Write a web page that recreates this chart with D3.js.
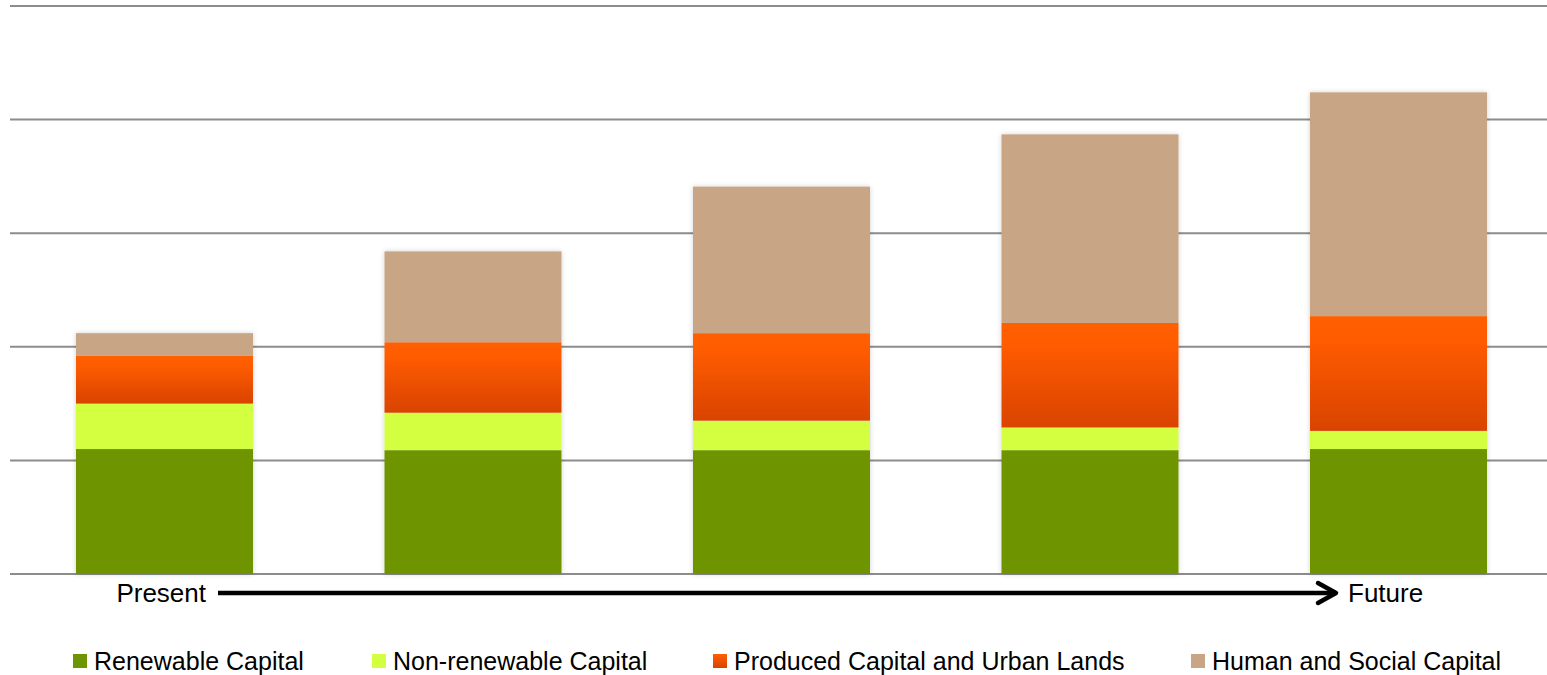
<!DOCTYPE html>
<html>
<head>
<meta charset="utf-8">
<script src="https://cdn.jsdelivr.net/npm/d3@7"></script>
<style>
  body { margin: 0; background: #fff; }
  text { font-family: "Liberation Sans", Arial, sans-serif; }
</style>
</head>
<body>
<div id="chart"></div>
<script>
// stacked capital bars, present -> future
const width = 1547;
const height = 675;

const periods = ["P1", "P2", "P3", "P4", "P5"];
const seriesNames = ["Renewable Capital", "Non-renewable Capital", "Produced Capital and Urban Lands", "Human and Social Capital"];
const renewable = [1.10, 1.09, 1.09, 1.09, 1.10];
const nonRenewable = [0.40, 0.33, 0.26, 0.20, 0.16];
const produced = [0.42, 0.62, 0.77, 0.92, 1.01];
const human = [0.20, 0.80, 1.29, 1.66, 1.97];
const yTicks = [0, 1, 2, 3, 4, 5];

const colors = ["#6e9400", "#d3ff40", "url(#orangeGrad)", "#c8a585"];
const legendColors = ["#6e9400", "#d3ff40", "url(#orangeGradLeg)", "#c8a585"];

const rows = periods.map((p, i) => ({
  period: p,
  s0: renewable[i], s1: nonRenewable[i], s2: produced[i], s3: human[i]
}));
const stack = d3.stack().keys(["s0", "s1", "s2", "s3"])(rows);

const svg = d3.select("#chart").append("svg")
  .attr("width", width)
  .attr("height", height);

const defs = svg.append("defs");
const grad = defs.append("linearGradient").attr("id", "orangeGrad")
  .attr("x1", 0).attr("y1", 0).attr("x2", 0).attr("y2", 1);
grad.append("stop").attr("offset", "0%").attr("stop-color", "#ff5f00");
grad.append("stop").attr("offset", "20%").attr("stop-color", "#ff5c00");
grad.append("stop").attr("offset", "100%").attr("stop-color", "#d94300");
const gradL = defs.append("linearGradient").attr("id", "orangeGradLeg")
  .attr("x1", 0).attr("y1", 0).attr("x2", 0).attr("y2", 1);
gradL.append("stop").attr("offset", "0%").attr("stop-color", "#ff5f00");
gradL.append("stop").attr("offset", "100%").attr("stop-color", "#d94300");

const shadow = defs.append("filter").attr("id", "shadow")
  .attr("x", "-10%").attr("y", "-10%").attr("width", "120%").attr("height", "120%");
shadow.append("feDropShadow").attr("dx", 0).attr("dy", 0)
  .attr("stdDeviation", 2.5).attr("flood-color", "#000").attr("flood-opacity", 0.18);

const x = d3.scaleBand().domain(periods).range([14.3, 1548.7]).paddingInner(0.4263).paddingOuter(0.2);
const y = d3.scaleLinear().domain([0, 5]).range([574, 6]);

// gridlines
svg.append("g")
  .selectAll("line")
  .data(yTicks)
  .join("line")
  .attr("x1", 10).attr("x2", width)
  .attr("y1", d => y(d)).attr("y2", d => y(d))
  .attr("stroke", "#8c8c8c")
  .attr("stroke-width", 2);

const bars = svg.append("g").attr("filter", "url(#shadow)");
bars.selectAll("g")
  .data(stack)
  .join("g")
  .attr("fill", (d, i) => colors[i])
  .selectAll("rect")
  .data(d => d)
  .join("rect")
  .attr("x", d => x(d.data.period))
  .attr("width", x.bandwidth())
  .attr("y", d => y(d[1]))
  .attr("height", d => y(d[0]) - y(d[1]));

// arrow axis
const arrowY = 593;
svg.append("text")
  .attr("x", 206).attr("y", arrowY + 9)
  .attr("text-anchor", "end")
  .attr("font-size", 26)
  .text("Present");
svg.append("text")
  .attr("x", 1348).attr("y", arrowY + 9)
  .attr("font-size", 26)
  .text("Future");
svg.append("line")
  .attr("x1", 218).attr("x2", 1336)
  .attr("y1", arrowY).attr("y2", arrowY)
  .attr("stroke", "#000").attr("stroke-width", 4.5);
svg.append("path")
  .attr("d", `M1318,${arrowY - 10} L1336,${arrowY} L1318,${arrowY + 10}`)
  .attr("fill", "none").attr("stroke", "#000")
  .attr("stroke-width", 4.5).attr("stroke-linecap", "round").attr("stroke-linejoin", "round");

// legend
const legendX = [73, 372, 713, 1191];
const legend = svg.append("g")
  .selectAll("g")
  .data(seriesNames)
  .join("g")
  .attr("transform", (d, i) => `translate(${legendX[i]},661)`);
legend.append("rect")
  .attr("x", 0).attr("y", -7)
  .attr("width", 14).attr("height", 14)
  .attr("fill", (d, i) => legendColors[i]);
legend.append("text")
  .attr("x", 21).attr("y", 8.5)
  .attr("font-size", 25)
  .text(d => d);
</script>
</body>
</html>
